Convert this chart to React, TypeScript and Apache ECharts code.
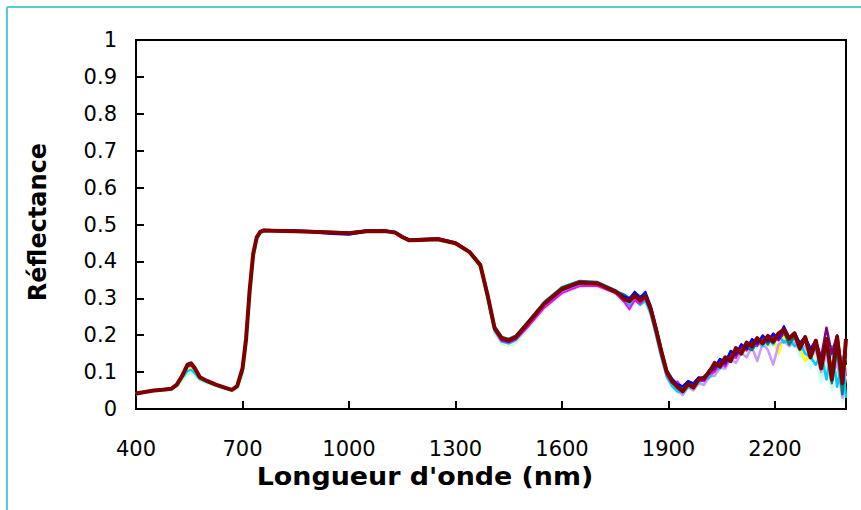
import React, { useEffect, useRef } from "react";
import * as echarts from "echarts";

// Wavelength sampling (nm)
const wlVis = [400, 425, 450, 475, 500, 515, 530, 545, 555, 565, 580, 600, 625, 650, 670, 685, 700, 710, 720, 730, 740, 750, 760, 780, 850, 950, 1000, 1050, 1100, 1130, 1150, 1170, 1200, 1250, 1300, 1340, 1370, 1390, 1410, 1430, 1450, 1470, 1500, 1550, 1600, 1650, 1700, 1750];
const wlSwir = [1760, 1775, 1790, 1805, 1820, 1835, 1850, 1865, 1880, 1895, 1910, 1925, 1940, 1955, 1970, 1985, 2000, 2015, 2030, 2045, 2060, 2075, 2090, 2105, 2120, 2135, 2150, 2165, 2180, 2195, 2210, 2225, 2240, 2255, 2270, 2285, 2300, 2315, 2330, 2345, 2360, 2375, 2390, 2400];

const xTicks = { min: 400, max: 2400, interval: 300 };
const yTicks = { min: 0, max: 1, interval: 0.1 };

// Reflectance spectra
const lightCyanVis = [0.041,0.046,0.050,0.052,0.054,0.062,0.082,0.100,0.104,0.096,0.080,0.072,0.063,0.056,0.051,0.058,0.098,0.172,0.300,0.405,0.458,0.477,0.482,0.482,0.482,0.478,0.476,0.483,0.485,0.480,0.467,0.457,0.458,0.459,0.448,0.422,0.384,0.300,0.210,0.182,0.177,0.186,0.218,0.276,0.318,0.337,0.335,0.314];
const lightCyanSwir = [0.305,0.290,0.282,0.300,0.288,0.296,0.262,0.205,0.145,0.090,0.060,0.050,0.045,0.062,0.055,0.072,0.068,0.090,0.092,0.115,0.110,0.140,0.130,0.158,0.150,0.170,0.165,0.185,0.172,0.188,0.170,0.190,0.175,0.180,0.140,0.160,0.110,0.140,0.070,0.120,0.050,0.100,0.020,0.090];

const paleGreenVis = [0.040,0.045,0.049,0.051,0.053,0.060,0.078,0.095,0.098,0.092,0.078,0.070,0.062,0.055,0.050,0.056,0.090,0.160,0.285,0.395,0.455,0.476,0.482,0.483,0.483,0.479,0.478,0.484,0.486,0.481,0.468,0.458,0.458,0.459,0.447,0.420,0.380,0.295,0.205,0.178,0.172,0.180,0.212,0.270,0.312,0.332,0.332,0.312];
const paleGreenSwir = [0.300,0.285,0.280,0.295,0.285,0.290,0.255,0.200,0.140,0.085,0.065,0.045,0.040,0.055,0.060,0.065,0.070,0.085,0.095,0.110,0.115,0.135,0.135,0.150,0.155,0.165,0.170,0.180,0.170,0.180,0.175,0.195,0.180,0.185,0.150,0.170,0.130,0.150,0.090,0.140,0.060,0.150,0.040,0.120];

const yellowVis = [0.042,0.046,0.050,0.052,0.055,0.064,0.086,0.110,0.114,0.104,0.083,0.074,0.065,0.057,0.051,0.060,0.104,0.182,0.312,0.414,0.462,0.479,0.484,0.484,0.483,0.479,0.477,0.483,0.484,0.479,0.466,0.457,0.458,0.460,0.449,0.424,0.388,0.306,0.216,0.187,0.181,0.190,0.222,0.280,0.320,0.339,0.337,0.316];
const yellowSwir = [0.308,0.295,0.285,0.302,0.290,0.300,0.265,0.210,0.150,0.095,0.072,0.058,0.050,0.066,0.062,0.075,0.078,0.092,0.100,0.118,0.120,0.140,0.142,0.160,0.158,0.172,0.172,0.180,0.178,0.188,0.150,0.195,0.185,0.190,0.165,0.130,0.150,0.165,0.120,0.190,0.110,0.200,0.070,0.150];

const lavenderVis = [0.042,0.046,0.050,0.052,0.055,0.065,0.088,0.116,0.120,0.108,0.085,0.075,0.065,0.057,0.051,0.061,0.108,0.186,0.316,0.418,0.464,0.480,0.484,0.483,0.482,0.478,0.476,0.482,0.482,0.478,0.466,0.457,0.458,0.460,0.449,0.424,0.388,0.306,0.214,0.184,0.178,0.188,0.220,0.278,0.318,0.337,0.336,0.315];
const lavenderSwir = [0.306,0.292,0.284,0.300,0.287,0.298,0.262,0.206,0.146,0.092,0.066,0.050,0.038,0.060,0.050,0.070,0.065,0.088,0.090,0.112,0.110,0.135,0.125,0.152,0.140,0.168,0.130,0.178,0.160,0.120,0.175,0.185,0.170,0.180,0.160,0.170,0.140,0.160,0.100,0.150,0.080,0.130,0.030,0.110];

const skyVis = [0.040,0.046,0.050,0.052,0.054,0.063,0.084,0.103,0.106,0.098,0.081,0.073,0.064,0.056,0.051,0.059,0.100,0.178,0.306,0.410,0.460,0.478,0.483,0.483,0.482,0.478,0.476,0.483,0.484,0.479,0.467,0.458,0.458,0.460,0.449,0.424,0.386,0.302,0.212,0.183,0.178,0.187,0.220,0.279,0.320,0.339,0.337,0.316];
const skySwir = [0.307,0.292,0.280,0.298,0.282,0.294,0.258,0.200,0.140,0.088,0.062,0.048,0.045,0.058,0.060,0.072,0.080,0.085,0.105,0.110,0.125,0.130,0.150,0.150,0.168,0.165,0.185,0.170,0.195,0.175,0.200,0.180,0.190,0.170,0.180,0.150,0.140,0.120,0.150,0.080,0.170,0.060,0.140,0.030];

const magentaVis = [0.042,0.046,0.050,0.052,0.055,0.065,0.088,0.114,0.118,0.107,0.084,0.075,0.065,0.057,0.051,0.060,0.106,0.184,0.314,0.416,0.463,0.480,0.484,0.484,0.483,0.479,0.477,0.484,0.484,0.480,0.467,0.459,0.460,0.462,0.450,0.424,0.386,0.304,0.214,0.184,0.180,0.188,0.218,0.274,0.314,0.333,0.333,0.314];
const magentaSwir = [0.305,0.290,0.270,0.295,0.285,0.300,0.265,0.205,0.145,0.092,0.070,0.075,0.055,0.070,0.065,0.078,0.075,0.095,0.100,0.125,0.115,0.145,0.138,0.165,0.158,0.178,0.170,0.190,0.178,0.195,0.185,0.205,0.188,0.200,0.170,0.185,0.150,0.175,0.120,0.180,0.100,0.170,0.080,0.160];

const tealVis = [0.043,0.047,0.051,0.053,0.056,0.066,0.090,0.118,0.122,0.110,0.086,0.076,0.066,0.058,0.052,0.062,0.110,0.190,0.320,0.420,0.465,0.481,0.485,0.484,0.483,0.479,0.477,0.483,0.483,0.479,0.467,0.458,0.459,0.461,0.450,0.427,0.393,0.314,0.224,0.195,0.190,0.199,0.232,0.290,0.330,0.347,0.344,0.322];
const tealSwir = [0.316,0.310,0.300,0.315,0.305,0.310,0.278,0.222,0.162,0.106,0.082,0.065,0.060,0.075,0.068,0.085,0.082,0.105,0.112,0.135,0.128,0.155,0.150,0.170,0.165,0.160,0.180,0.195,0.175,0.200,0.190,0.210,0.175,0.195,0.160,0.190,0.140,0.170,0.110,0.175,0.070,0.160,0.040,0.180];

const purpleVis = [0.042,0.046,0.050,0.052,0.055,0.066,0.090,0.119,0.123,0.111,0.086,0.076,0.066,0.058,0.052,0.062,0.109,0.188,0.318,0.419,0.464,0.481,0.485,0.485,0.484,0.480,0.478,0.484,0.484,0.480,0.467,0.459,0.461,0.463,0.451,0.426,0.390,0.308,0.217,0.188,0.182,0.192,0.225,0.283,0.323,0.342,0.339,0.318];
const purpleSwir = [0.310,0.302,0.292,0.308,0.298,0.306,0.272,0.216,0.156,0.102,0.080,0.065,0.050,0.068,0.058,0.080,0.078,0.100,0.108,0.132,0.122,0.152,0.145,0.172,0.162,0.186,0.176,0.196,0.182,0.200,0.188,0.208,0.192,0.205,0.175,0.195,0.160,0.185,0.140,0.220,0.150,0.200,0.100,0.150];

const blueVis = [0.043,0.047,0.050,0.052,0.055,0.065,0.088,0.116,0.120,0.109,0.085,0.075,0.065,0.057,0.051,0.061,0.108,0.187,0.318,0.419,0.465,0.481,0.485,0.485,0.483,0.474,0.472,0.480,0.484,0.480,0.468,0.458,0.459,0.461,0.450,0.426,0.391,0.310,0.220,0.191,0.185,0.194,0.227,0.285,0.326,0.344,0.341,0.320];
const blueSwir = [0.314,0.306,0.300,0.318,0.302,0.318,0.280,0.222,0.160,0.104,0.082,0.068,0.062,0.076,0.070,0.086,0.084,0.106,0.114,0.136,0.126,0.158,0.150,0.176,0.165,0.190,0.178,0.200,0.186,0.205,0.192,0.225,0.195,0.208,0.180,0.196,0.165,0.186,0.130,0.190,0.105,0.180,0.090,0.170];

const maroonVis = [0.042,0.046,0.050,0.052,0.055,0.066,0.090,0.120,0.124,0.112,0.086,0.076,0.066,0.058,0.052,0.062,0.110,0.190,0.320,0.420,0.465,0.480,0.484,0.483,0.482,0.478,0.476,0.482,0.482,0.478,0.466,0.457,0.458,0.460,0.449,0.425,0.390,0.310,0.220,0.192,0.186,0.195,0.228,0.285,0.325,0.343,0.340,0.318];
const maroonSwir = [0.312,0.298,0.292,0.308,0.294,0.306,0.270,0.215,0.155,0.100,0.075,0.060,0.048,0.068,0.058,0.080,0.085,0.100,0.125,0.115,0.140,0.130,0.165,0.150,0.180,0.170,0.192,0.178,0.198,0.182,0.205,0.215,0.190,0.205,0.165,0.195,0.140,0.185,0.110,0.190,0.080,0.195,0.070,0.190];

const xTitle = "Longueur d'onde (nm)";
const yTitle = "Réflectance";

const spectra = [
  { name: "S1", color: "#CCFFFF", vis: lightCyanVis, swir: lightCyanSwir, width: 2.5 },
  { name: "S2", color: "#CCFFCC", vis: paleGreenVis, swir: paleGreenSwir, width: 3 },
  { name: "S3", color: "#FFFF00", vis: yellowVis, swir: yellowSwir, width: 2.5 },
  { name: "S4", color: "#CC99FF", vis: lavenderVis, swir: lavenderSwir, width: 2.5 },
  { name: "S5", color: "#00CCFF", vis: skyVis, swir: skySwir, width: 2.5 },
  { name: "S6", color: "#FF00FF", vis: magentaVis, swir: magentaSwir, width: 2 },
  { name: "S7", color: "#008080", vis: tealVis, swir: tealSwir, width: 2.5 },
  { name: "S8", color: "#800080", vis: purpleVis, swir: purpleSwir, width: 2.5 },
  { name: "S9", color: "#0000FF", vis: blueVis, swir: blueSwir, width: 2 },
  { name: "S10", color: "#800000", vis: maroonVis, swir: maroonSwir, width: 4 },
];

const FONT = "'DejaVu Sans', 'Liberation Sans', Arial, sans-serif";

export default function App() {
  const ref = useRef<HTMLDivElement>(null);
  useEffect(() => {
    document.body.style.margin = "0";
    if (!ref.current) return;
    const chart = echarts.init(ref.current, undefined, { renderer: "svg" });
    const wl = [...wlVis, ...wlSwir];
    const series = spectra.map((s) => {
      const vals = [...s.vis, ...s.swir];
      return {
        name: s.name,
        type: "line",
        data: wl.map((w, i) => [w, vals[i]]),
        showSymbol: false,
        symbol: "none",
        smooth: false,
        clip: true,
        lineStyle: { color: s.color, width: s.width, join: "round" },
        itemStyle: { color: s.color },
      };
    });
    chart.setOption({
      animation: false,
      backgroundColor: "#ffffff",
      grid: {
        left: 136,
        right: 15,
        top: 40,
        bottom: 101,
        show: true,
        borderColor: "#000",
        borderWidth: 2,
        backgroundColor: "transparent",
      },
      xAxis: {
        type: "value",
        min: xTicks.min,
        max: xTicks.max,
        interval: xTicks.interval,
        axisLine: { show: true, lineStyle: { color: "#000", width: 2 } },
        axisTick: { show: true, inside: true, length: 8, lineStyle: { color: "#000", width: 2 } },
        axisLabel: {
          color: "#000",
          fontFamily: FONT,
          fontSize: 21,
          margin: 29,
          showMaxLabel: false,
          formatter: (v: number) => String(v),
        },
        splitLine: { show: false },
      },
      yAxis: {
        type: "value",
        min: yTicks.min,
        max: yTicks.max,
        interval: yTicks.interval,
        axisLine: { show: true, lineStyle: { color: "#000", width: 2 } },
        axisTick: { show: true, inside: true, length: 8, lineStyle: { color: "#000", width: 2 } },
        axisLabel: {
          color: "#000",
          fontFamily: FONT,
          fontSize: 21,
          margin: 19,
          formatter: (v: number) => String(Number(v.toFixed(1))),
        },
        splitLine: { show: false },
      },
      graphic: [
        { type: "line", shape: { x1: 7, y1: 7, x2: 861, y2: 7 }, style: { stroke: "#4FCFCF", lineWidth: 2 } },
        { type: "line", shape: { x1: 7, y1: 7, x2: 7, y2: 510 }, style: { stroke: "#4FCFCF", lineWidth: 2 } },
        {
          type: "text",
          x: 425,
          y: 477,
          scaleX: 1.12,
          style: { text: xTitle, font: `bold 24px ${FONT}`, fill: "#000", align: "center", verticalAlign: "middle" },
        },
        {
          type: "text",
          x: 38,
          y: 222,
          rotation: Math.PI / 2,
          style: { text: yTitle, font: `bold 24px ${FONT}`, fill: "#000", align: "center", verticalAlign: "middle" },
        },
      ],
      series,
    });
    return () => chart.dispose();
  }, []);
  return <div ref={ref} style={{ width: 861, height: 510 }} />;
}
